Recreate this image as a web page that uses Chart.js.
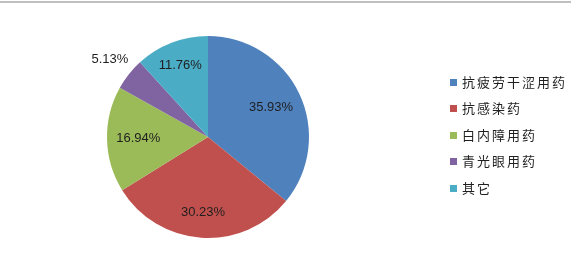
<!DOCTYPE html>
<html>
<head>
<meta charset="utf-8">
<script src="https://cdn.jsdelivr.net/npm/chart.js@4.4.0/dist/chart.umd.min.js"></script>
<style>
  html, body { margin: 0; padding: 0; background: #fff; }
  #wrap { position: relative; width: 571px; height: 259px; overflow: hidden; }
  #topline { position: absolute; left: 0; top: 1px; width: 571px; height: 2px; background: #bfbfbf; }
  canvas { position: absolute; left: 0; top: 0; }
</style>
</head>
<body>
<div id="wrap">
  <canvas id="c" width="571" height="259"></canvas>
  <div id="topline"></div>
</div>
<script>
const categories = ['抗疲劳干涩用药', '抗感染药', '白内障用药', '青光眼用药', '其它'];
const shares = [35.93, 30.23, 16.94, 5.13, 11.76];
const valueLabels = ['35.93%', '30.23%', '16.94%', '5.13%', '11.76%'];
const colors = ['#4f81bd', '#c0504d', '#9bbb59', '#8064a2', '#4bacc6'];
const labelRadius = [0.69, 0.75, 0.69, 1.24, 0.76];

const sliceLabels = {
  id: 'sliceLabels',
  afterDatasetsDraw(chart) {
    const ctx = chart.ctx;
    const meta = chart.getDatasetMeta(0);
    ctx.save();
    ctx.font = '13px "Liberation Sans", Arial, sans-serif';
    ctx.fillStyle = '#1f1f1f';
    ctx.textAlign = 'center';
    ctx.textBaseline = 'middle';
    meta.data.forEach((arc, i) => {
      const p = arc.getProps(['x', 'y', 'startAngle', 'endAngle', 'outerRadius'], true);
      const a = (p.startAngle + p.endAngle) / 2;
      const r = p.outerRadius * labelRadius[i];
      ctx.fillText(valueLabels[i], p.x + Math.cos(a) * r, p.y + Math.sin(a) * r);
    });
    ctx.restore();
  }
};

const sideLegend = {
  id: 'sideLegend',
  afterDraw(chart) {
    const ctx = chart.ctx;
    ctx.save();
    ctx.font = '13px "Noto Sans CJK SC", sans-serif';
    if ('letterSpacing' in ctx) ctx.letterSpacing = '2px';
    ctx.textAlign = 'left';
    ctx.textBaseline = 'middle';
    chart.data.labels.forEach((lab, i) => {
      const y = 82 + i * 26.5;
      ctx.fillStyle = colors[i];
      ctx.fillRect(450, Math.round(y - 3.5), 7, 7);
      ctx.fillStyle = '#1f1f1f';
      ctx.fillText(lab, 462, y);
    });
    ctx.restore();
  }
};

new Chart(document.getElementById('c'), {
  type: 'pie',
  data: {
    labels: categories,
    datasets: [{
      data: shares,
      backgroundColor: colors,
      borderWidth: 0
    }]
  },
  options: {
    responsive: false,
    animation: false,
    layout: { padding: { left: 107, right: 262, top: 36, bottom: 21 } },
    plugins: { legend: { display: false }, tooltip: { enabled: false } }
  },
  plugins: [sliceLabels, sideLegend]
});
</script>
</body>
</html>
